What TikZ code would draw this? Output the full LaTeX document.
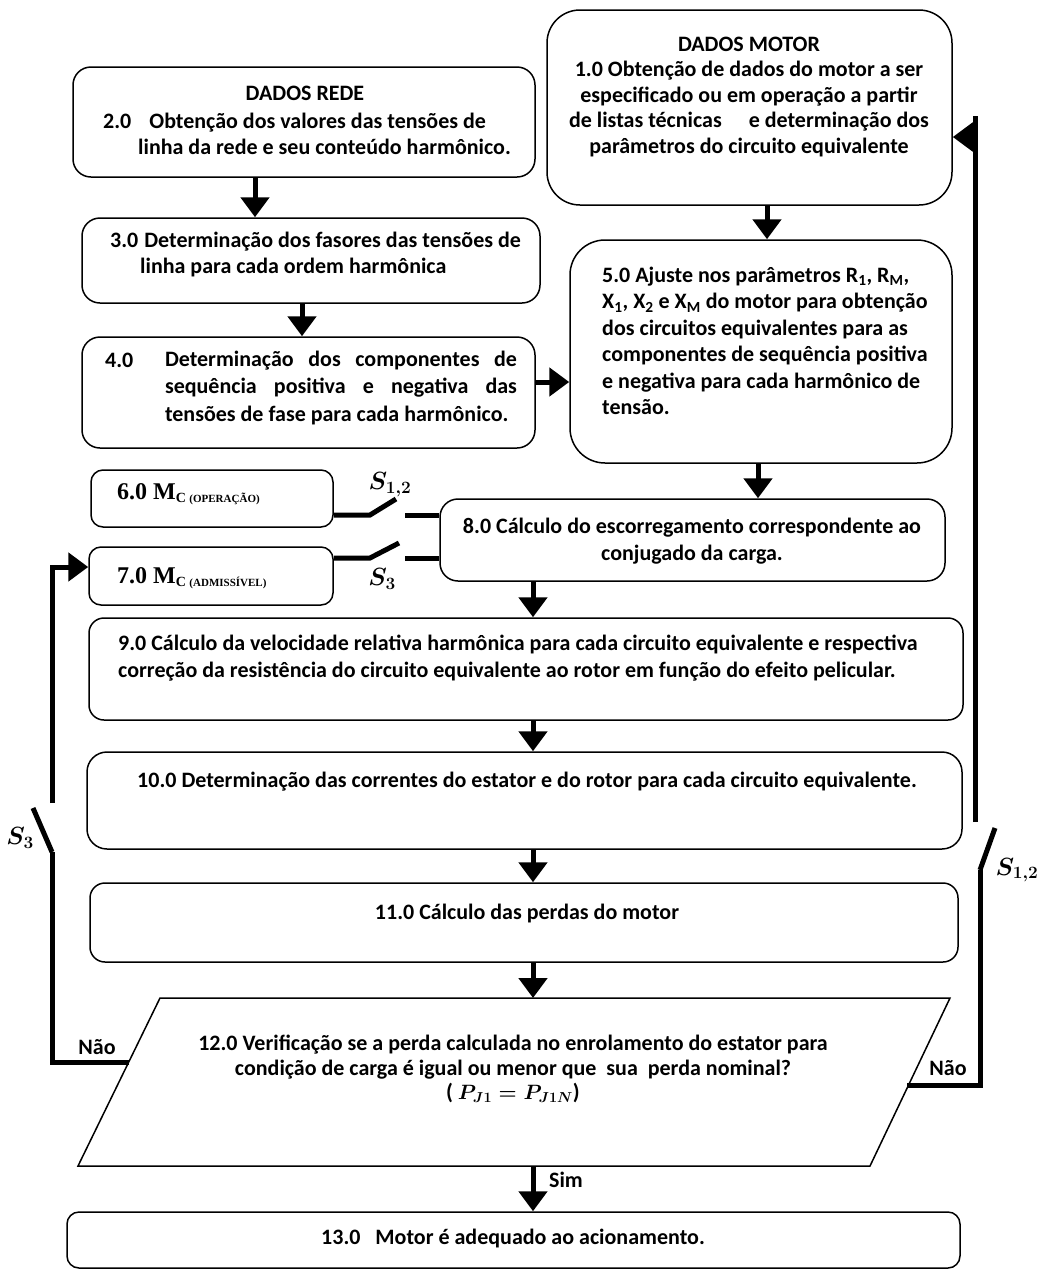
\documentclass[tikz,border=0pt]{standalone}
\usepackage{fontspec}
\setmainfont{Carlito}
\newfontfamily\timesfont{Liberation Serif}
\usetikzlibrary{arrows.meta}

\tikzset{
  caixa/.style={draw, line width=1.5pt, inner sep=0pt},
  seta/.style={line width=5pt, -{Triangle[length=20pt,width=28pt]}},
  fio/.style={line width=5pt},
  texto/.style={font=\fontsize{22}{26}\selectfont\bfseries, inner sep=0pt},
  chave/.style={font=\fontsize{23}{23}\selectfont\boldmath, inner sep=0pt},
  mc/.style={font=\timesfont\fontsize{24}{24}\selectfont\bfseries, inner sep=0pt, anchor=west},
}
\newcommand{\subsc}[1]{\raisebox{-3pt}{\fontsize{14}{14}\selectfont C \fontsize{11}{11}\selectfont(#1)}}

\begin{document}
\begin{tikzpicture}[x=1pt,y=-1pt]
\path[use as bounding box] (0,0) rectangle (1039,1270);

% caixas
\node[caixa,rounded corners=33pt,minimum width=405pt,minimum height=195pt] (n1) at (749.5,107.5) {};
\node[caixa,rounded corners=18pt,minimum width=462pt,minimum height=110pt] (n2) at (304,122) {};
\node[caixa,rounded corners=18pt,minimum width=458pt,minimum height=85pt] (n3) at (311,260.5) {};
\node[caixa,rounded corners=18pt,minimum width=453pt,minimum height=111pt] (n4) at (308.5,392.5) {};
\node[caixa,rounded corners=35pt,minimum width=382pt,minimum height=223pt] (n5) at (761,351.5) {};
\node[caixa,rounded corners=12pt,minimum width=242pt,minimum height=57pt] (n6) at (212,498.5) {};
\node[caixa,rounded corners=12pt,minimum width=244pt,minimum height=58pt] (n7) at (211,576) {};
\node[caixa,rounded corners=18pt,minimum width=505pt,minimum height=82pt] (n8) at (692.5,540) {};
\node[caixa,rounded corners=15pt,minimum width=874pt,minimum height=102pt] (n9) at (526,669) {};
\node[caixa,rounded corners=20pt,minimum width=875pt,minimum height=97pt] (n10) at (524.5,800.5) {};
\node[caixa,rounded corners=15pt,minimum width=868pt,minimum height=79pt] (n11) at (524,922.5) {};
\node[caixa,rounded corners=12pt,minimum width=893pt,minimum height=56pt] (n13) at (513.5,1240) {};

% paralelogramo da decisao
\coordinate (p1) at (160,998);
\coordinate (p2) at (950,998);
\coordinate (p3) at (870,1166);
\coordinate (p4) at (78,1166);
\draw[line width=1.5pt] (p1) -- (p2) -- (p3) -- (p4) -- cycle;

% textos
\node[texto,font=\fontsize{22}{25.5}\selectfont\bfseries,align=center] (t1) at (749,97) {DADOS MOTOR\\1.0 Obtenção de dados do motor a ser\\especificado ou em operação a partir\\de listas técnicas \quad e determinação dos\\parâmetros do circuito equivalente};
\node[texto] (t2a) at (305,93) {DADOS REDE};
\node[texto,align=left,anchor=west] (t2) at (103,133.5) {2.0\hspace{18pt}Obtenção dos valores das tensões de\\\hspace{35pt}linha da rede e seu conteúdo harmônico.};
\node[texto,align=left,anchor=west] (t3) at (110,254.5) {3.0\hspace{6pt}Determinação dos fasores das tensões de\\\hspace{30pt}linha para cada ordem harmônica};
\node[texto,anchor=west] (t4a) at (105,360) {4.0};
\node[texto,font=\fontsize{22}{27.5}\selectfont\bfseries,text width=352pt,align=justify] (t4) at (341,388) {Determinação dos componentes de\linebreak sequência positiva e negativa das\linebreak tensões de fase para cada harmônico.};
\node[texto,font=\fontsize{22}{26.5}\selectfont\bfseries,align=left,anchor=west] (t5) at (602,341) {5.0 Ajuste nos parâmetros R\textsubscript{1}, R\textsubscript{M},\\X\textsubscript{1}, X\textsubscript{2} e X\textsubscript{M} do motor para obtenção\\dos circuitos equivalentes para as\\componentes de sequência positiva\\e negativa para cada harmônico de\\tensão.};
\node[mc] (t6) at (117,494) {6.0 M\subsc{OPERAÇÃO}};
\node[mc] (t7) at (117,578) {7.0 M\subsc{ADMISSÍVEL}};
\node[texto,font=\fontsize{22}{27}\selectfont\bfseries,align=center] (t8) at (692,541.5) {8.0 Cálculo do escorregamento correspondente ao\\conjugado da carga.};
\node[texto,font=\fontsize{22}{27}\selectfont\bfseries,align=left,anchor=west] (t9) at (118,658.5) {9.0 Cálculo da velocidade relativa harmônica para cada circuito equivalente e respectiva\\correção da resistência do circuito equivalente ao rotor em função do efeito pelicular.};
\node[texto] (t10) at (527,782) {10.0 Determinação das correntes do estator e do rotor para cada circuito equivalente.};
\node[texto] (t11) at (527,913) {11.0 Cálculo das perdas do motor};
\node[texto,font=\fontsize{22}{24.5}\selectfont\bfseries\boldmath,align=center] (n12) at (513,1069) {12.0 Verificação se a perda calculada no enrolamento do estator para\\condição de carga é igual ou menor que \ sua \ perda nominal?\\( $P_{J1} = P_{J1N}$)};
\node[texto] (t13) at (513,1238) {13.0 \ \ Motor é adequado ao acionamento.};
\node[texto] (sim) at (566,1180) {Sim};
\node[texto] (nao1) at (97,1047) {Não};
\node[texto] (nao2) at (948,1068) {Não};

% setas principais
\coordinate (eixo) at (533,0);
\draw[seta] (n2.south -| 255,0) -- (n3.north -| 255,0);
\draw[seta] (n3.south -| 302,0) -- (n4.north -| 302,0);
\draw[seta] (n1.south -| 767,0) -- (n5.north -| 767,0);
\draw[seta] (n4.east |- 0,382) -- (n5.west |- 0,382);
\draw[seta] (n5.south -| 758,0) -- (n8.north -| 758,0);
\draw[seta] (n8.south -| eixo) -- (n9.north -| eixo);
\draw[seta] (n9.south -| eixo) -- (n10.north -| eixo);
\draw[seta] (n10.south -| eixo) -- (n11.north -| eixo);
\draw[seta] (n11.south -| eixo) -- (eixo |- p1);
\draw[seta] (eixo |- p4) -- (n13.north -| eixo);

% chaves S12 e S3
\coordinate (k1a) at (370,515);
\coordinate (k1b) at (396,499);
\coordinate (k1c) at (405,515);
\coordinate (k3a) at (370,558);
\coordinate (k3b) at (399,543);
\coordinate (k3c) at (405,558);
\draw[fio] (n6.east |- k1a) -- (k1a) -- (k1b);
\draw[fio] (k1c) -- (k1c -| n8.west);
\draw[fio] (n7.east |- k3a) -- (k3a) -- (k3b);
\draw[fio] (k3c) -- (k3c -| n8.west);
\node[chave] (s12) at (390,485) {$S_{1,2}$};
\node[chave] (s3) at (382,579) {$S_3$};

% retorno pela esquerda (S3)
\coordinate (pe) at (129,1062);
\coordinate (s3a) at (52,852);
\coordinate (s3b) at (33,808);
\coordinate (s3c) at (52,803);
\draw[fio] (pe) -| (s3a);
\draw[fio] (s3a) -- (s3b);
\draw[seta] (s3c) |- ([yshift=9pt]n7.west);
\node[chave] (s3e) at (20,838) {$S_3$};

% retorno pela direita (S12)
\coordinate (pd) at (907,1085);
\coordinate (r12a) at (980,870);
\coordinate (r12b) at (995,828);
\coordinate (r12c) at (975,822);
\coordinate (rt) at (975,116);
\coordinate (ra) at (975,137);
\draw[fio] (pd) -| (r12a);
\draw[fio] (r12a) -- (r12b);
\draw[fio] (r12c) -- (rt);
\draw[seta] (ra) -- (ra -| n1.east);
\node[chave] (s12d) at (1017,870) {$S_{1,2}$};
\end{tikzpicture}
\end{document}
